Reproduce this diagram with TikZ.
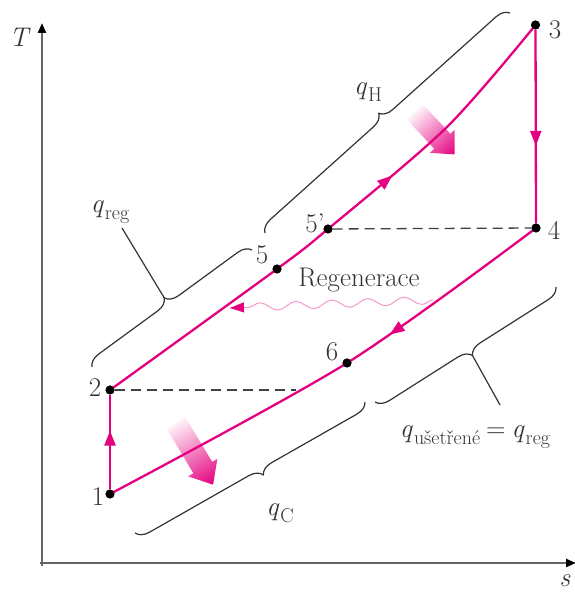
\documentclass[tikz,border=0pt]{standalone}
\usepackage{fontspec}
\usetikzlibrary{arrows.meta,decorations.pathreplacing,decorations.pathmorphing,decorations.markings,calc}
\definecolor{mag}{RGB}{228,0,127}
\newcommand{\qwith}[1]{\textit{q}\kern1pt\raisebox{-0.28em}{\fontsize{20}{22}\selectfont #1}}
\begin{document}
\begin{tikzpicture}[x=1pt,y=1pt,
  lbl/.style={font=\fontsize{27}{30}\selectfont, inner sep=0pt, text=black!80},
  cyc/.style={draw=mag, line width=2.3pt},
  dotpt/.style={circle, fill=black, inner sep=0pt, minimum size=9pt},
  dsh/.style={draw=black!75, line width=1.3pt, dash pattern=on 10pt off 6pt},
  brc/.style={draw=black!80, line width=1.2pt, decorate, decoration={brace, amplitude=13pt}},
  thinl/.style={draw=black!80, line width=1.2pt},
  ax/.style={draw=black!60, line width=2.4pt}
]
\useasboundingbox (0,0) rectangle (574,593);

% axes
\coordinate (O) at (42,27);
\coordinate (Ty) at (42,570);
\coordinate (Ox) at (40,30);
\coordinate (Sx) at (576,30);
\draw[ax, -{Triangle[length=10pt,width=8pt,color=black]}] (O) -- (Ty);
\draw[ax, -{Triangle[length=10pt,width=8pt,color=black]}] (Ox) -- (Sx);
\node[lbl] (T) at (20,556) {\textit{T}};
\node[lbl] (S) at (565,12) {\textit{s}};

% state points
\node[dotpt] (p1) at (110,99) {};
\node[dotpt] (p2) at (110,203) {};
\node[dotpt] (p3) at (535.5,568) {};
\node[dotpt] (p4) at (536,365) {};
\node[dotpt] (p5) at (277,324) {};
\node[dotpt] (p5p) at (328,364) {};
\node[dotpt] (p6) at (347,230) {};
\coordinate (c23) at (447,466);
\coordinate (d2) at (296,203);

% dashed lines
\draw[dsh] (p2) -- (d2);
\draw[dsh] (p5p) -- (p4);

% gradient arrows
\begin{scope}[transform canvas={shift={(415,481)}, rotate=-47}]
  \shade[left color=mag!5, right color=mag] (0,-11) -- (40,-11) -- (40,-17) -- (58,0) -- (40,17) -- (40,11) -- (0,11) -- cycle;
\end{scope}
\begin{scope}[transform canvas={shift={(176,170)}, rotate=-59}]
  \shade[left color=mag!5, right color=mag] (0,-11) -- (52,-11) -- (52,-17) -- (72,0) -- (52,17) -- (52,11) -- (0,11) -- cycle;
\end{scope}

% cycle
\draw[cyc, postaction={decorate}, decoration={markings, mark=at position 0.62 with {\arrow{Triangle[length=15pt,width=11pt]}}}] (p1) -- (p2);
\draw[cyc, postaction={decorate}, decoration={markings, mark=at position 0.63 with {\arrow{Triangle[length=15pt,width=11pt]}}}] plot[smooth] coordinates {(p2) (p5) (p5p) (c23) (p3)};
\draw[cyc, postaction={decorate}, decoration={markings, mark=at position 0.60 with {\arrow{Triangle[length=15pt,width=11pt]}}}] (p3) -- (p4);
\draw[cyc, postaction={decorate}, decoration={markings, mark=at position 0.36 with {\arrow{Triangle[length=15pt,width=11pt]}}}] plot[smooth] coordinates {(p4) (p6) (p1)};

% redraw dots on top
\foreach \n in {p1,p2,p3,p4,p5,p5p,p6} \fill (\n) circle (4.4pt);

% point labels
\node[lbl] (l1) at (98,96) {1};
\node[lbl] (l2) at (95,205) {2};
\node[lbl] (l3) at (555,563) {3};
\node[lbl] (l4) at (554,363) {4};
\node[lbl] (l5) at (262,338) {5};
\node[lbl] (l5p) at (315,370) {5'};
\node[lbl] (l6) at (332,241) {6};

% regeneration
\coordinate (rg1) at (433,293);
\coordinate (rg2) at (230,285);
\draw[draw=mag!40, line width=1pt, decorate, decoration={snake, amplitude=4pt, segment length=36pt, post length=14pt}] (rg1) -- (rg2);
\draw[draw=mag!40, line width=1pt, -{Triangle[length=14pt,width=10pt,color=mag]}] ($(rg2)!14pt!(rg1)$) -- (rg2);
\node[lbl] (reg) at (359,313) {Regenerace};

% braces
\coordinate (bH1) at (265,360);
\coordinate (bH2) at (510,580);
\draw[brc] (bH1) -- (bH2);
\node[lbl] (qH) at (368,501) {\qwith{H}};

\coordinate (bR1) at (92,226);
\coordinate (bR2) at (252,343);
\draw[brc] (bR1) -- (bR2);
\coordinate (tR) at ($(bR1)!.5!(bR2)!13pt!90:(bR2)$);
\coordinate (eR) at (122,365);
\draw[thinl] (tR) -- (eR);
\node[lbl] (qreg) at (110,381) {\qwith{reg}};

\coordinate (bC1) at (365,191);
\coordinate (bC2) at (135,60);
\draw[brc, decoration={aspect=0.47}] (bC1) -- (bC2);
\node[lbl] (qC) at (280,80) {\qwith{C}};

\coordinate (bU1) at (556,306);
\coordinate (bU2) at (375,191);
\draw[brc] (bU1) -- (bU2);
\coordinate (tU) at ($(bU1)!.5!(bU2)!13pt!90:(bU2)$);
\coordinate (eU) at (500,188);
\draw[thinl] (tU) -- (eU);
\node[lbl] (qU) at (475,156) {\qwith{ušetřené}\kern6pt=\kern6pt\qwith{reg}};
\end{tikzpicture}
\end{document}
